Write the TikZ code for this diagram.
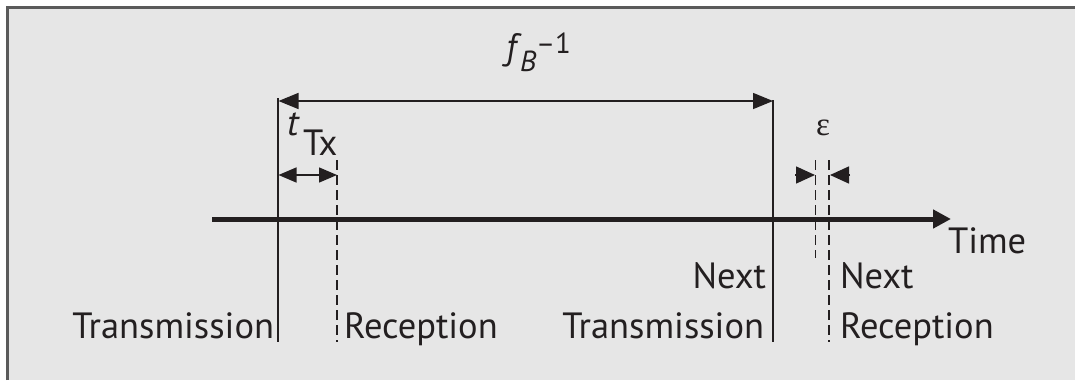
\documentclass[tikz,border=0pt]{standalone}
\usepackage{fontspec}
\setmainfont{PT Sans}
\newfontfamily\greekfont{Liberation Serif}
\usetikzlibrary{arrows.meta}
\definecolor{ink}{HTML}{231F20}
\definecolor{panel}{HTML}{E6E6E6}
\definecolor{rim}{HTML}{5A5A5A}
\tikzset{
  lbl/.style={inner sep=0pt,outer sep=0pt,text=ink,font=\fontsize{36.5}{40}\selectfont},
  smalllbl/.style={inner sep=0pt,outer sep=0pt,text=ink,font=\fontsize{29}{32}\selectfont},
  solidline/.style={draw=ink,line width=1.5pt},
  dashline/.style={draw=ink,line width=1.4pt,dash pattern=on 10pt off 5pt},
  tritwo/.style={{Triangle[length=20pt,width=16pt]}-{Triangle[length=20pt,width=16pt]}},
  axisline/.style={draw=ink,line width=5pt,-{Triangle[length=18pt,width=18pt]}}
}
\begin{document}
\begin{tikzpicture}[x=1pt,y=-1pt]
\useasboundingbox (0,0) rectangle (1075,380);
% panel
\fill[white] (0,0) rectangle (1075,380);
\fill[panel] (7.5,7.5) rectangle (1075,380);
\draw[rim,line width=3pt] (7.5,380) -- (7.5,7.5) -- (1075,7.5);
% coordinates
\coordinate (L0) at (278,98);
\coordinate (L1) at (278,342);
\coordinate (R0) at (773,100);
\coordinate (R1) at (773,342);
\coordinate (D0) at (337,160);
\coordinate (D1) at (337,342);
\coordinate (E0) at (815.5,160);
\coordinate (E1) at (815.5,258);
\coordinate (F0) at (829,160);
\coordinate (F1) at (829,342);
\coordinate (A0) at (212,219);
\coordinate (A1) at (951,219);
\coordinate (B0) at (278.5,101);
\coordinate (B1) at (773,101);
\coordinate (S0) at (278.5,175);
\coordinate (S1) at (337,175);
\coordinate (EL) at (795,175);
\coordinate (ELt) at (815,175);
\coordinate (ER) at (850,175);
\coordinate (ERt) at (830,175);
% lines
\draw[axisline] (A0) -- (A1);
\draw[solidline] (L0) -- (L1);
\draw[solidline] (R0) -- (R1);
\draw[dashline] (D0) -- (D1);
\draw[dashline] (E0) -- (E1);
\draw[dashline] (F0) -- (F1);
\draw[solidline,tritwo] (B0) -- (B1);
\draw[solidline,line width=1.4pt,{Triangle[length=18pt,width=15pt]}-{Triangle[length=18pt,width=15pt]}] (S0) -- (S1);
\draw[solidline,-{Triangle[length=19pt,width=17pt]}] (EL) -- (ELt);
\draw[solidline,-{Triangle[length=19pt,width=17pt]}] (ER) -- (ERt);
% labels
\node[lbl,anchor=base east] (tx) at (274,338) {Transmission};
\node[lbl,anchor=base west] (rx) at (344,338) {Reception};
\node[lbl,anchor=base east] (ntxa) at (766,288) {Next};
\node[lbl,anchor=base east] (ntxb) at (764,338) {Transmission};
\node[lbl,anchor=base west] (nrxa) at (840,288) {Next};
\node[lbl,anchor=base west] (nrxb) at (840,338) {Reception};
\node[lbl,anchor=base west] (time) at (948,253) {Time};
\node[lbl,anchor=base west] (tt) at (287,135) {\itshape t};
\node[lbl,anchor=base west] (ttx) at (303,155) {Tx};
\node[inner sep=0pt,text=ink,font=\fontsize{33}{36}\selectfont,anchor=center] (eps) at (823,128) {\greekfont ε};
\node[lbl,anchor=base west] (fb) at (506,59) {\itshape f};
\node[smalllbl,anchor=base west] (fbsub) at (520,71) {\itshape B};
\node[smalllbl,anchor=base west] (fbsup) at (536,53) {--1};
\end{tikzpicture}
\end{document}
